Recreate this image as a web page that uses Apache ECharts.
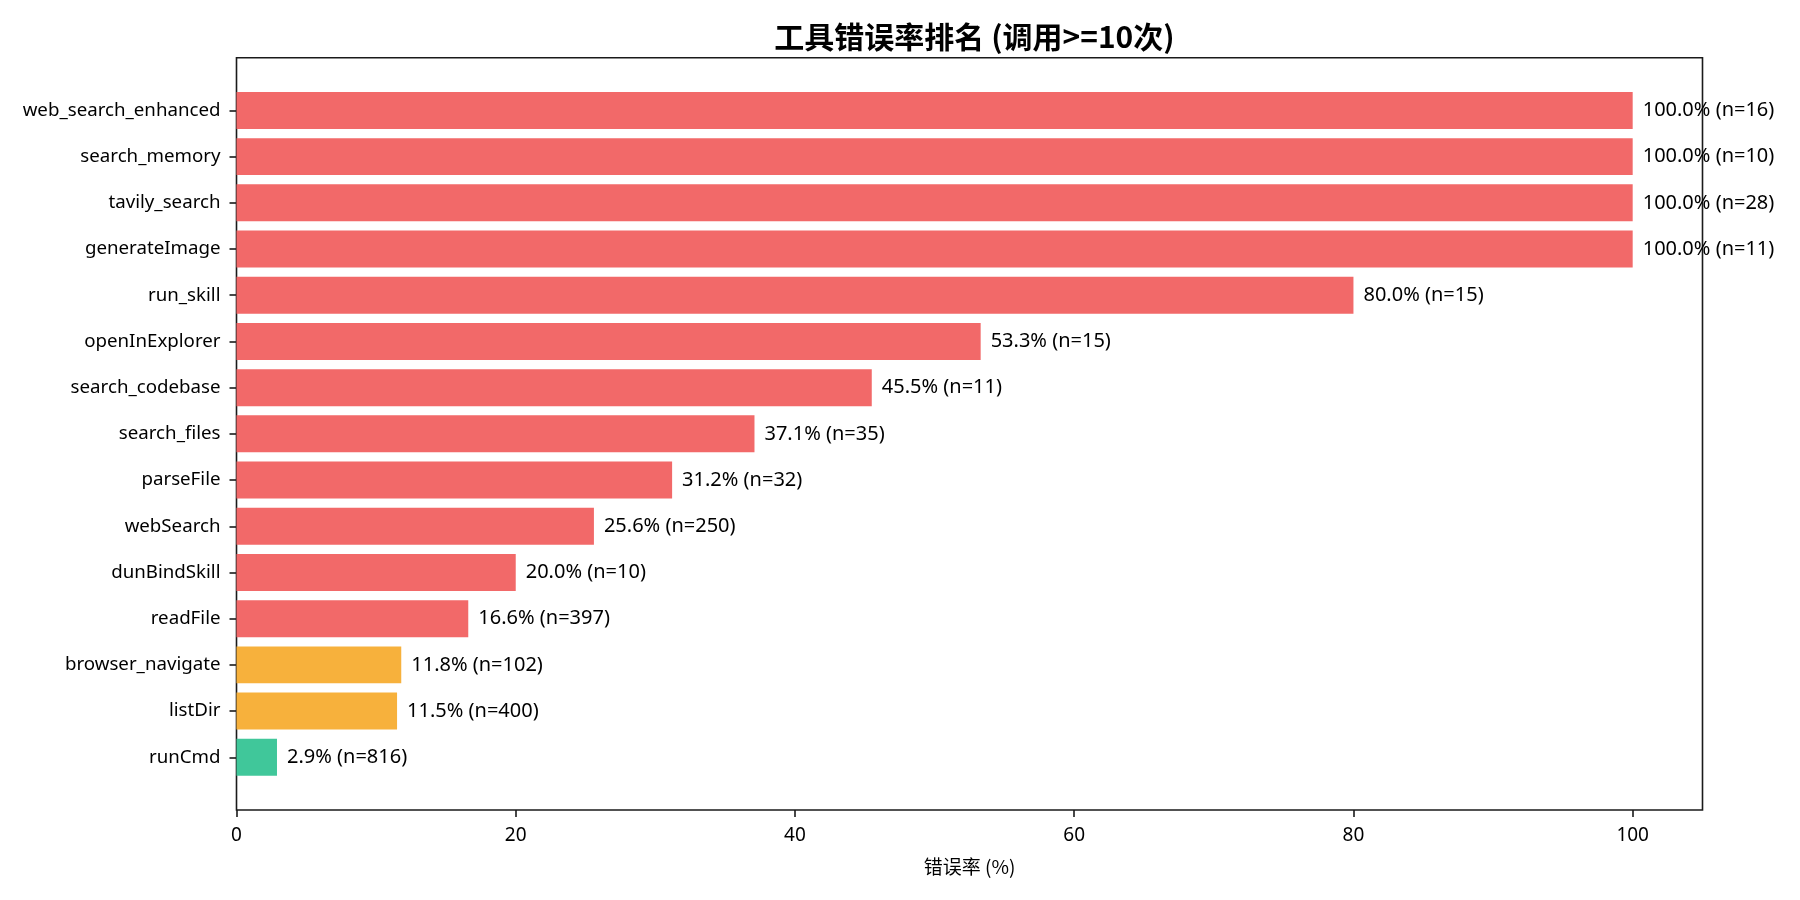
<!DOCTYPE html>
<html>
<head>
<meta charset="utf-8">
<script src="https://cdn.jsdelivr.net/npm/echarts@6/dist/echarts.min.js"></script>
<style>
html,body{margin:0;padding:0;background:#fff;}
#chart{width:1800px;height:900px;}
</style>
</head>
<body>
<div id="chart"></div>
<script>
const tools = ['web_search_enhanced','search_memory','tavily_search','generateImage','run_skill','openInExplorer','search_codebase','search_files','parseFile','webSearch','dunBindSkill','readFile','browser_navigate','listDir','runCmd'];
const errorRates = [100.0,100.0,100.0,100.0,80.0,53.3,45.5,37.1,31.2,25.6,20.0,16.6,11.8,11.5,2.9];
const callCounts = [16,10,28,11,15,15,11,35,32,250,10,397,102,400,816];
const xTicks = [0,20,40,60,80,100];

const LATIN = "'Noto Sans', 'Noto Sans CJK SC', sans-serif";
const CJK = "'Noto Sans CJK SC', 'Noto Sans', sans-serif";
function colorFor(v){
  if (v > 15) return '#F26969';
  if (v > 10) return '#F7B13C';
  return '#40C79A';
}
const frame = {left:236.5, right:97.5, top:57.7, bottom:90};
const bars = {left:236.5, right:97.5, top:87.3, bottom:119.6};

const chart = echarts.init(document.getElementById('chart'), null, {renderer:'canvas'});
chart.setOption({
  animation:false,
  backgroundColor:'#fff',
  title:{
    text:'工具错误率排名 (调用>=10次)',
    left: 236.5 + (1800-236.5-97.5)/2, textAlign:'center', top:17,
    textStyle:{fontFamily:CJK, fontWeight:'bold', fontSize:30, color:'#000'}
  },
  grid:[
    Object.assign({show:true, borderColor:'#1a1a1a', borderWidth:1.6, backgroundColor:'transparent'}, frame),
    Object.assign({}, bars)
  ],
  xAxis:[
    {gridIndex:0, type:'value', min:0, max:105,
     axisLine:{show:false},
     axisTick:{show:true, length:7, lineStyle:{color:'#1a1a1a', width:1.6}, customValues:xTicks},
     axisLabel:{customValues:xTicks, margin:16, fontFamily:LATIN, fontSize:19, color:'#000'},
     splitLine:{show:false},
     name:'错误率 (%)', nameLocation:'middle', nameGap:47,
     nameTextStyle:{fontFamily:CJK, fontSize:19, color:'#000'}},
    {gridIndex:1, type:'value', min:0, max:105, show:false}
  ],
  yAxis:[
    {gridIndex:0, type:'value', min:0, max:1, show:false},
    {gridIndex:1, type:'category', inverse:true, data:tools,
     axisLine:{show:false},
     axisTick:{show:true, length:7, alignWithLabel:true, lineStyle:{color:'#1a1a1a', width:1.6}},
     axisLabel:{margin:16, fontFamily:LATIN, fontSize:18.7, color:'#000'},
     splitLine:{show:false}}
  ],
  series:[{
    type:'bar', xAxisIndex:1, yAxisIndex:1, barWidth:'80%',
    data: errorRates.map(v => ({value:v, itemStyle:{color:colorFor(v)}})),
    label:{
      show:true, position:'right', distance:10,
      fontFamily:LATIN, fontSize:20, color:'#000',
      formatter: p => errorRates[p.dataIndex].toFixed(1) + '% (n=' + callCounts[p.dataIndex] + ')'
    }
  }]
});
</script>
</body>
</html>
